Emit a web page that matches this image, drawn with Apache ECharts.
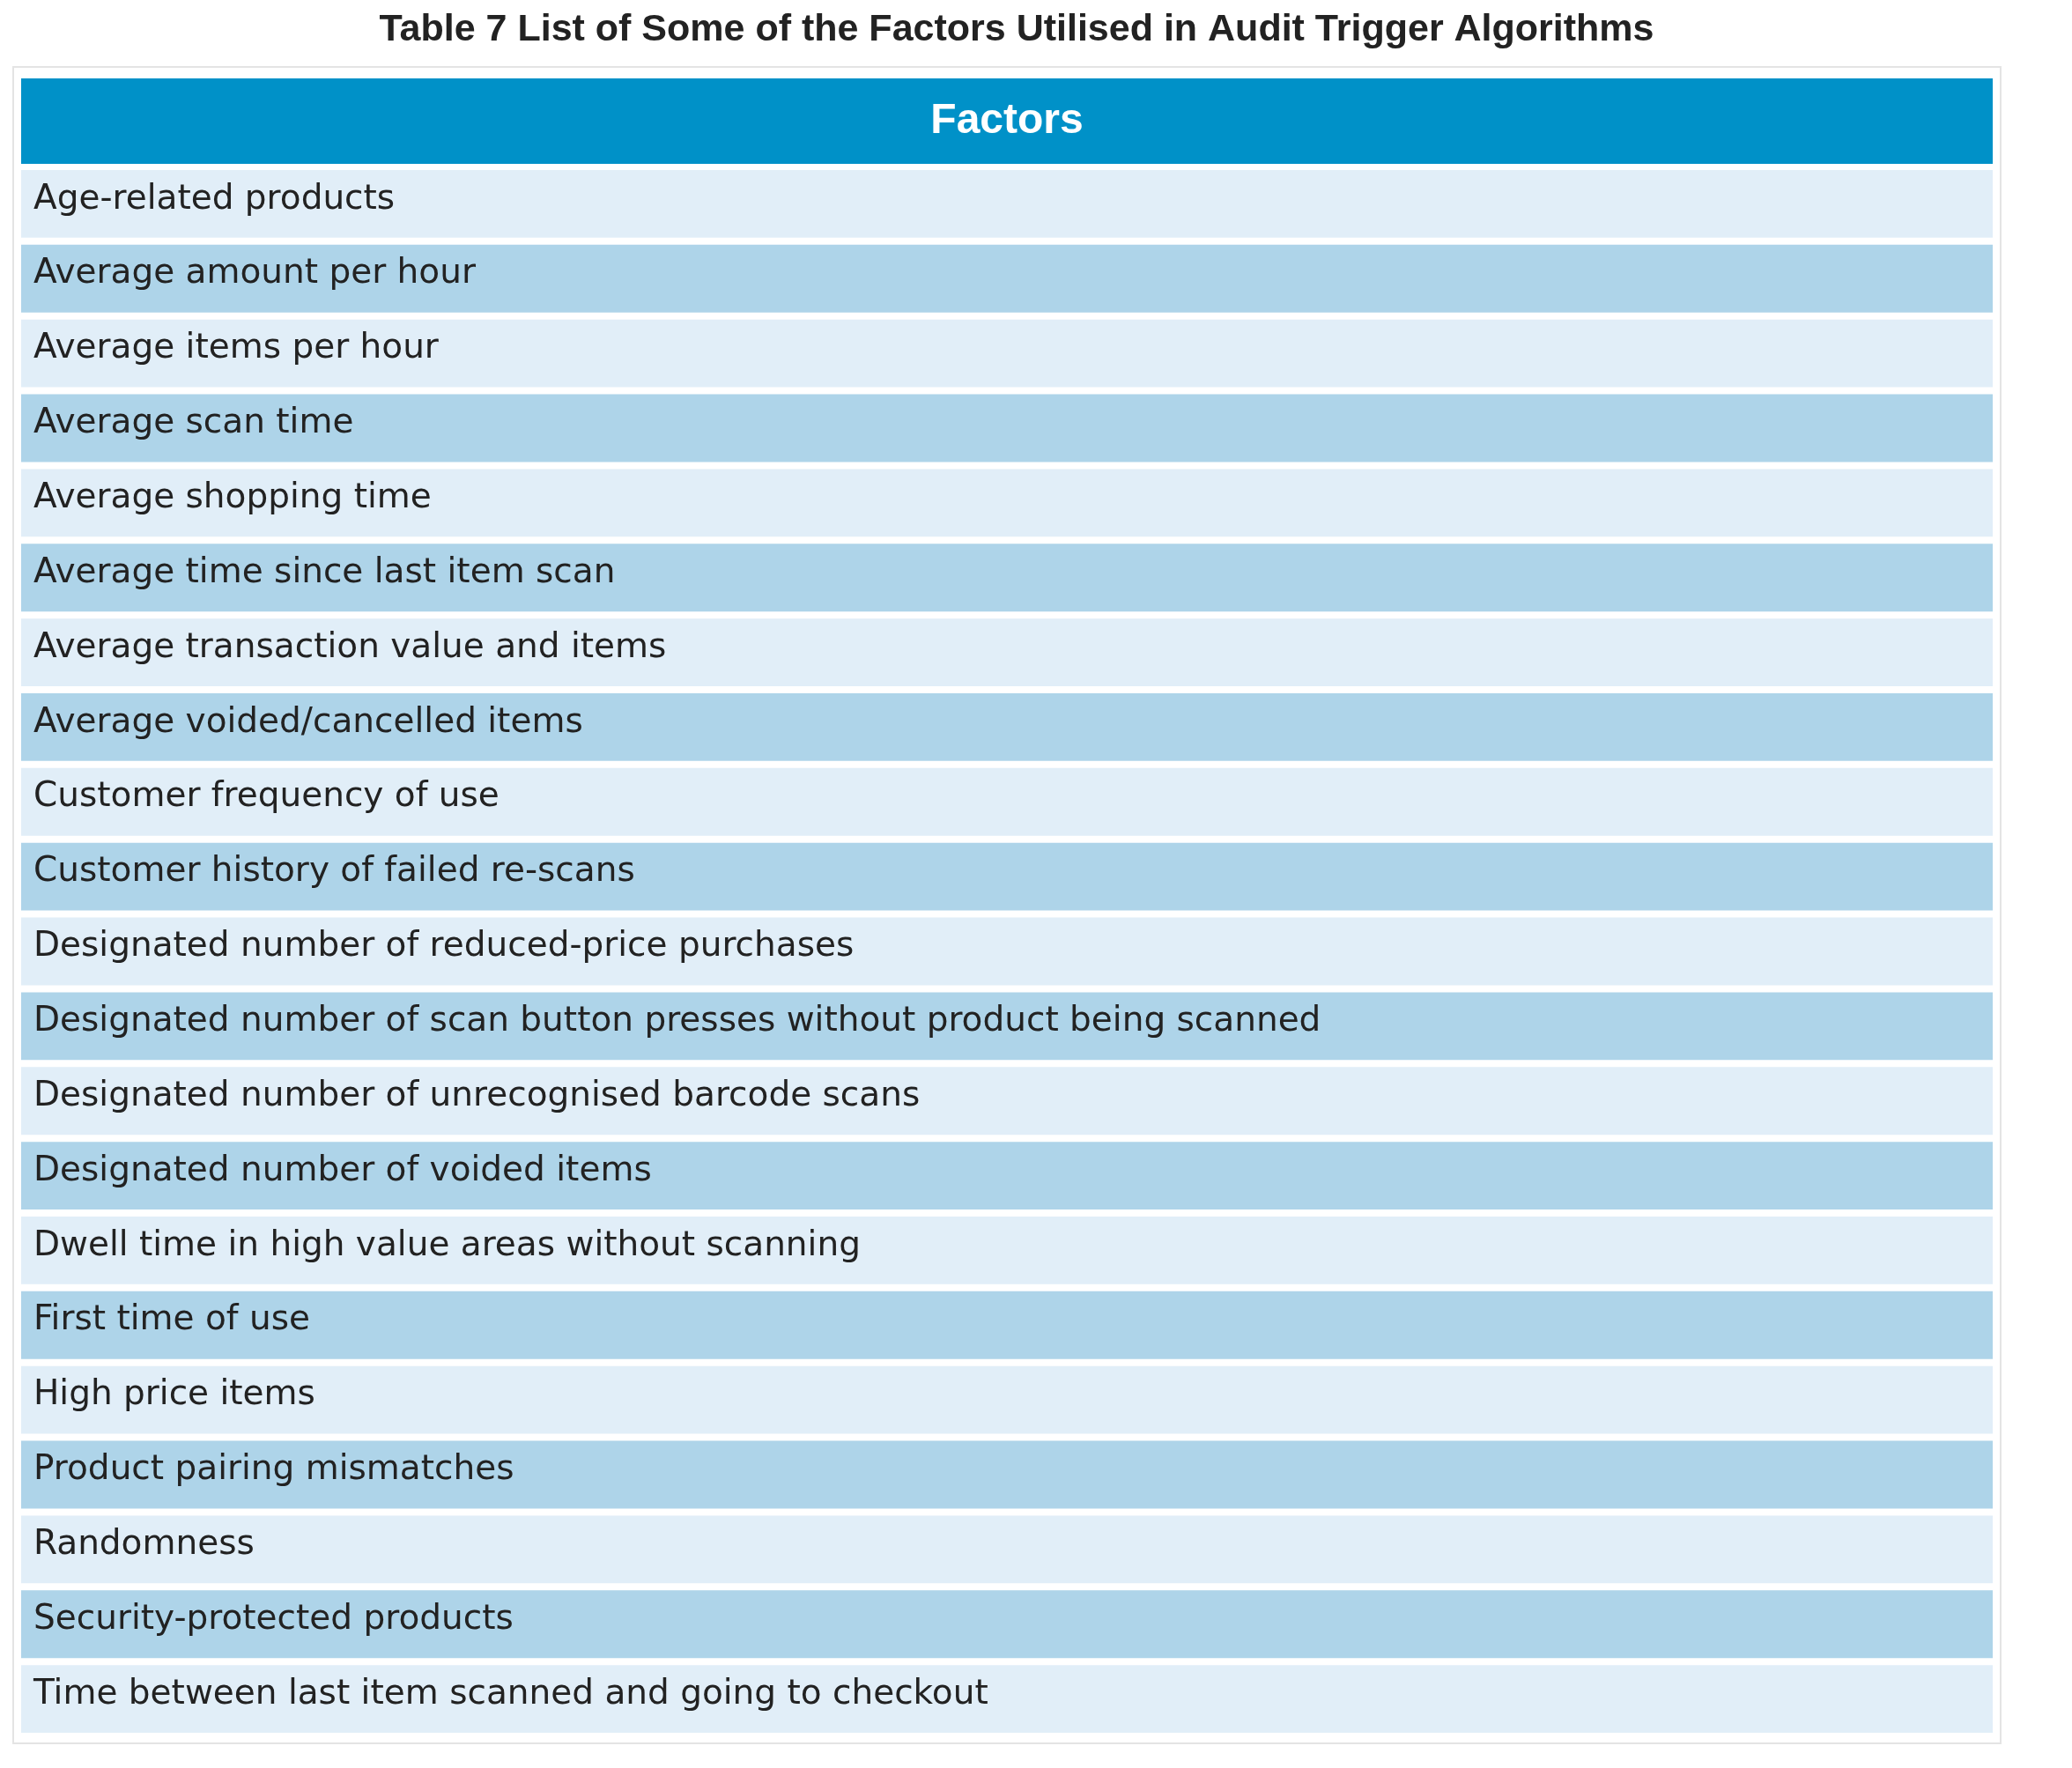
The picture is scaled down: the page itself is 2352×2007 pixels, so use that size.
<!DOCTYPE html>
<html><head><meta charset="utf-8">
<script src="https://cdn.jsdelivr.net/npm/echarts@6/dist/echarts.min.js"></script>
<style>html,body{margin:0;padding:0;background:#fff}#c{width:2352px;height:2007px}</style>
</head><body><div id="c"></div>
<script>
const title = 'Table 7 List of Some of the Factors Utilised in Audit Trigger Algorithms';
const header = 'Factors';
const factors = [
 'Age-related products','Average amount per hour','Average items per hour','Average scan time',
 'Average shopping time','Average time since last item scan','Average transaction value and items',
 'Average voided/cancelled items','Customer frequency of use','Customer history of failed re-scans',
 'Designated number of reduced-price purchases',
 'Designated number of scan button presses without product being scanned',
 'Designated number of unrecognised barcode scans','Designated number of voided items',
 'Dwell time in high value areas without scanning','First time of use','High price items',
 'Product pairing mismatches','Randomness','Security-protected products',
 'Time between last item scanned and going to checkout'
];
const chart = echarts.init(document.getElementById('c'));
const FONT = '"Liberation Sans", Arial, sans-serif';
const BODY = '"DejaVu Sans", sans-serif';
chart.setOption({
  animation:false,
  title:{text:title,left:1149,textAlign:'center',top:8,textStyle:{fontFamily:FONT,fontSize:43,fontWeight:'bold',color:'#222'}},
  graphic:[
    {type:'rect',shape:{x:15,y:76,width:2256,height:1903},style:{fill:'none',stroke:'#e4e4e4',lineWidth:2}},
    {type:'rect',shape:{x:24,y:89,width:2238,height:97},style:{fill:'#0091C8'}},
    {type:'text',x:1143,y:138,style:{text:header,align:'center',verticalAlign:'middle',fill:'#fff',font:'bold 48px '+FONT}}
  ],
  grid:{left:24,right:90,top:189,bottom:36},
  xAxis:{type:'value',min:0,max:1,show:false},
  yAxis:{type:'category',data:factors,inverse:true,show:false},
  series:[{
    type:'custom',
    data:factors.map((f,i)=>[0,i]),
    renderItem:function(params,api){
      const i=api.value(1);
      const p0=api.coord([0,i]); const p1=api.coord([1,i]);
      const h=api.size([0,1])[1];
      const gap=8;
      return {type:'group',children:[
        {type:'rect',shape:{x:p0[0],y:p0[1]-h/2+gap/2,width:p1[0]-p0[0],height:h-gap},
         style:{fill:i%2===0?'#E1EEF8':'#AED4E9'}},
        {type:'text',x:p0[0]+14,y:p0[1]-5,style:{text:factors[i],verticalAlign:'middle',fill:'#222',font:'39px '+BODY}}
      ]};
    }
  }]
});
</script></body></html>
